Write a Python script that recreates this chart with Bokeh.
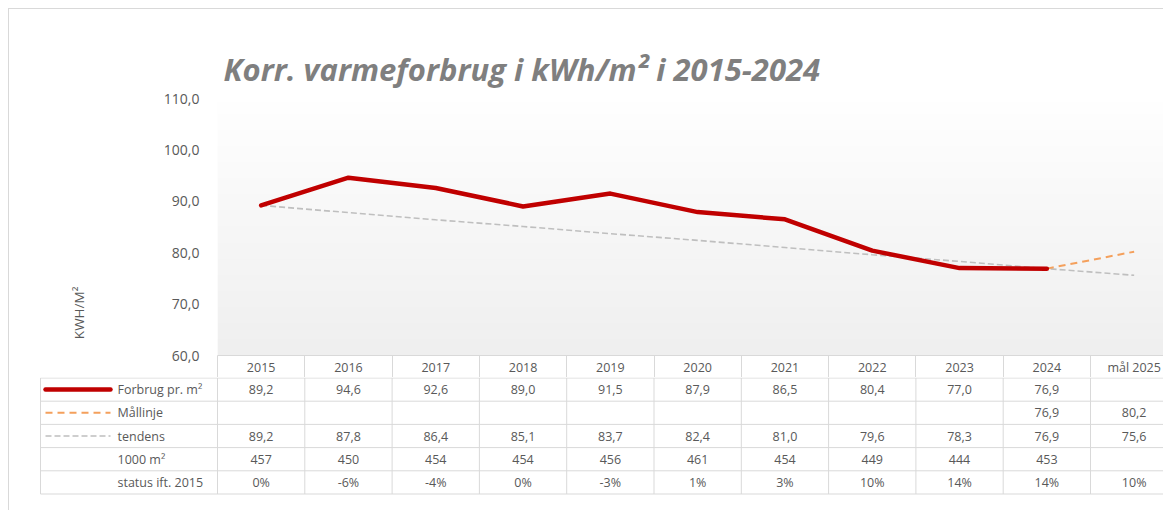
import numpy as np
from bokeh.plotting import figure
from bokeh.models import Range1d, FixedTicker, CustomJSTickFormatter
from bokeh.core.properties import value
from bokeh.embed import file_html
from bokeh.resources import INLINE

# ---------------- data ----------------
years = ["2015", "2016", "2017", "2018", "2019", "2020", "2021", "2022", "2023", "2024", "mål 2025"]
forbrug = [89.2, 94.6, 92.6, 89.0, 91.5, 87.9, 86.5, 80.4, 77.0, 76.9, None]
maallinje = [None, None, None, None, None, None, None, None, None, 76.9, 80.2]
tendens = [89.2, 87.8, 86.4, 85.1, 83.7, 82.4, 81.0, 79.6, 78.3, 76.9, 75.6]
areal = [457, 450, 454, 454, 456, 461, 454, 449, 444, 453, None]
status = ["0%", "-6%", "-4%", "0%", "-3%", "1%", "3%", "10%", "14%", "14%", "10%"]
row_labels = ["Forbrug pr. m²", "Mållinje", "tendens", "1000 m²", "status ift. 2015"]
y_ticks = [60, 70, 80, 90, 100, 110]

TITLE = "Korr. varmeforbrug i kWh/m² i 2015-2024"
Y_LABEL = "KWH/M²"

# ---------------- style ----------------
RED = "#c00000"
ORANGE = "#f4a05c"
GREY_DASH = "#bfbfbf"
GRID = "#d9d9d9"
TXT = "#595959"
FONT = "Open Sans"
TFS = "12.5px"

W = 1155
STEP = 87.3               # px per category
A_LEFT = 208              # chart frame left inside figure
A_TOP = 89
A_FRAME_H = 257
A_BOTTOM = 23             # header row (x axis) height
B_LEFT = 29
B_H = 133
ROW_H = 23.2

n = len(years)
xs = list(range(n))
x_end = -0.5 + (W - A_LEFT) / STEP
bx_start = x_end - (W - B_LEFT) / STEP

def nz(v):
    return float("nan") if v is None else v

# ---------------- chart ----------------
p = figure(width=W, height=A_TOP + A_FRAME_H + A_BOTTOM, output_backend="svg", toolbar_location=None,
           x_range=Range1d(-0.5, x_end), y_range=Range1d(60, 110),
           min_border_left=A_LEFT, min_border_right=0, min_border_top=A_TOP,
           min_border_bottom=A_BOTTOM, background_fill_color="white",
           border_fill_color="white", outline_line_color=None,
           styles={"margin-left": "8px", "margin-top": "8px",
                   "border-left": "1px solid #d9d9d9", "border-top": "1px solid #d9d9d9"})
p.grid.visible = False

# y axis
p.yaxis.ticker = FixedTicker(ticks=y_ticks)
p.yaxis.formatter = CustomJSTickFormatter(code="return tick.toFixed(1).replace('.', ',');")
p.yaxis.axis_line_color = None
p.yaxis.major_tick_line_color = None
p.yaxis.major_tick_out = 0
p.yaxis.major_tick_in = 0
p.yaxis.minor_tick_line_color = None
p.yaxis.minor_tick_out = 0
p.yaxis.major_label_standoff = 18
p.yaxis.major_label_text_font = FONT
p.yaxis.major_label_text_font_size = "14px"
p.yaxis.major_label_text_color = TXT
p.yaxis.axis_label = Y_LABEL + "\u00a0" * 49
p.yaxis.axis_label_text_font = FONT
p.yaxis.axis_label_text_font_size = "13.5px"
p.yaxis.axis_label_text_font_style = "normal"
p.yaxis.axis_label_text_color = TXT
p.yaxis.axis_label_standoff = 73

# x axis = header row of the data table
p.xaxis.ticker = FixedTicker(ticks=xs, minor_ticks=[i - 0.5 for i in range(n + 1)])
p.xaxis.formatter = CustomJSTickFormatter(args=dict(labels=years),
                                          code="return labels[Math.round(tick)];")
p.xaxis.axis_line_color = GRID
p.xaxis.major_tick_line_color = None
p.xaxis.major_tick_out = 0
p.xaxis.major_tick_in = 0
p.xaxis.minor_tick_line_color = GRID
p.xaxis.minor_tick_out = A_BOTTOM
p.xaxis.minor_tick_in = 0
p.xaxis.major_label_standoff = -20
p.xaxis.major_label_text_font = FONT
p.xaxis.major_label_text_font_size = TFS
p.xaxis.major_label_text_color = TXT

p.title.text = TITLE
p.title.text_font = FONT
p.title.text_font_size = "31px"
p.title.text_font_style = "bold italic"
p.title.text_color = "#7f7f7f"
p.title.align = "left"
p.title.offset = 6
p.title.standoff = 17

# gradient plot-area background
N = 64
shade = np.linspace(239, 255, N).astype(np.uint32)
img = np.empty((N, 1), dtype=np.uint32)
view = img.view(dtype=np.uint8).reshape((N, 1, 4))
view[:, 0, 0] = shade
view[:, 0, 1] = shade
view[:, 0, 2] = shade
view[:, 0, 3] = 255
p.image_rgba(image=[img], x=-0.5, y=60, dw=x_end + 0.5, dh=50)

p.line(xs, [nz(v) for v in tendens], line_color=GREY_DASH, line_width=1.6, line_dash="6 3")
p.line(xs, [nz(v) for v in maallinje], line_color=ORANGE, line_width=2, line_dash="7 5")
p.line(xs, [nz(v) for v in forbrug], line_color=RED, line_width=4.5, line_join="round", line_cap="round")

# ---------------- data table (rows below the header) ----------------
y_top = 0.5 - 0.5 / ROW_H
y_bot = y_top + B_H / ROW_H
t = figure(width=W, height=B_H, output_backend="svg", toolbar_location=None,
           x_range=Range1d(bx_start, x_end), y_range=Range1d(y_bot, y_top),
           min_border_left=B_LEFT, min_border_right=0, min_border_top=0, min_border_bottom=0,
           background_fill_color="white", border_fill_color="white", outline_line_color=None,
           styles={"margin-left": "8px", "border-left": "1px solid #d9d9d9"})
t.axis.visible = False
t.grid.visible = False

tbl_left = -0.5 - (217 - 40) / STEP
nrows = len(row_labels)
hy = [r + 0.5 for r in range(nrows + 1)]
t.segment(x0=[tbl_left] * len(hy), y0=hy, x1=[x_end + 1] * len(hy), y1=hy, line_color=GRID, line_width=1)
vx = [tbl_left] + [k - 0.5 for k in range(n + 1)]
t.segment(x0=vx, y0=[0.5] * len(vx), x1=vx, y1=[nrows + 0.5] * len(vx), line_color=GRID, line_width=1)

def fmt1(v):
    return "" if v is None else f"{v:.1f}".replace(".", ",")

cells_x, cells_y, cells_t = [], [], []
for i in range(n):
    for r, txt in enumerate([fmt1(forbrug[i]), fmt1(maallinje[i]), fmt1(tendens[i]),
                             "" if areal[i] is None else str(areal[i]), status[i]], start=1):
        cells_x.append(i); cells_y.append(r); cells_t.append(txt)
t.text(x=cells_x, y=cells_y, text=cells_t, text_align="center", text_baseline="middle",
       text_font=value(FONT), text_font_size=TFS, text_color=TXT)

lab_x = -0.5 - (217 - 117) / STEP
t.text(x=[lab_x] * nrows, y=list(range(1, nrows + 1)), text=row_labels, text_align="left",
       text_baseline="middle", text_font=value(FONT), text_font_size=TFS, text_color=TXT)

# legend keys
k0 = -0.5 - (217 - 45) / STEP
k1 = -0.5 - (217 - 110) / STEP
t.line([k0, k1], [1, 1], line_color=RED, line_width=4.5, line_cap="round")
t.line([k0, k1], [2, 2], line_color=ORANGE, line_width=2, line_dash="7 5")
t.line([k0, k1], [3, 3], line_color=GREY_DASH, line_width=1.6, line_dash="6 3")

open("out.html", "w").write(file_html([p, t], INLINE))
